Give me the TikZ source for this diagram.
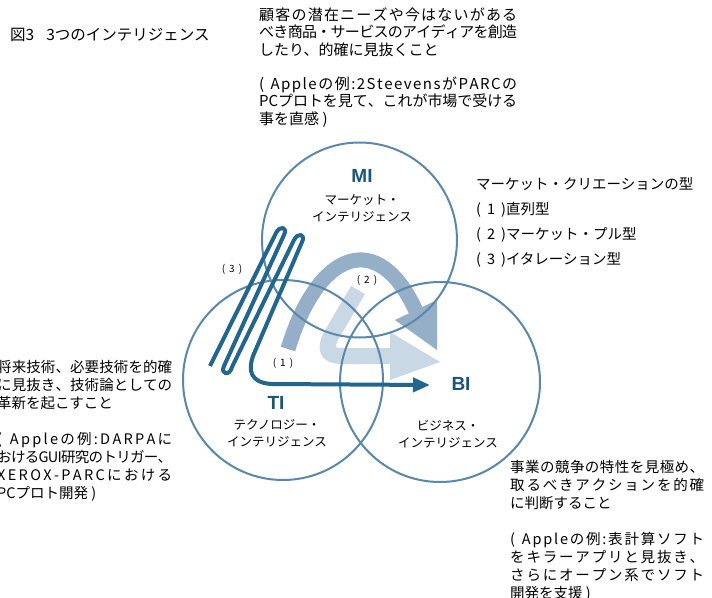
\documentclass[tikz,border=0pt]{standalone}
\usepackage{fontspec}
\setmainfont{Noto Sans CJK JP}
\newfontfamily\lat{Liberation Sans}
\usetikzlibrary{arrows.meta}
\definecolor{circc}{HTML}{5A88AC}
\definecolor{darkc}{HTML}{22668F}
\definecolor{medc}{HTML}{95AFC9}
\definecolor{lightc}{HTML}{C9D8E5}
\definecolor{labc}{HTML}{1B557E}
\makeatletter
\def\jl#1#2{\makebox[#1][s]{\jl@first#2\relax}}
\def\jl@first#1{#1\jl@rest}
\def\jl@rest#1{\ifx\relax#1\else\hskip 0pt plus 1fil minus 1pt #1\expandafter\jl@rest\fi}
\makeatother
\begin{document}
\begin{tikzpicture}[x=1pt,y=-1pt,
  txt/.style={anchor=north west, inner sep=0pt, align=left, text=black},
  circ/.style={circle, draw=circc, line width=2pt, inner sep=0pt},
  lbl/.style={font=\lat\bfseries\fontsize{19}{19}\selectfont, text=labc, inner sep=0pt},
  sub/.style={font=\fontsize{12.5}{16.5}\selectfont, align=center, inner sep=0pt},
  num/.style={font=\fontsize{10}{10}\selectfont, inner sep=0pt},
  band/.style={line cap=butt, line join=round},
  darkp/.style={draw=darkc, line width=4pt, line cap=butt, line join=round}]
\useasboundingbox (0,0) rectangle (712,597);
\clip (0,0) rectangle (712,597);
\fill[white] (0,0) rectangle (712,597);

% bands
\draw[band, draw=lightc, line width=16pt] (358,290) -- (331,336) .. controls (324,350) and (328,356) .. (342,356) -- (391,356);
\fill[lightc] (390,332) -- (440,362) -- (390,380) -- cycle;
\draw[band, draw=medc, line width=15pt] (288,349) .. controls (318,250) and (378,228) .. (416,311);
\fill[medc] (395,320) -- (437,300) -- (437,350) -- cycle;

% circles
\node[circ, minimum size=195pt] (MIc) at (359.5,240) {};
\node[circ, minimum size=200pt] (TIc) at (283,380) {};
\node[circ, minimum size=200pt] (BIc) at (440,382) {};

% dark iteration path and arrow (1)
\coordinate (tipone) at (430,385);
\draw[darkp, -{Triangle[length=17pt,width=14pt]}] (210,366) -- (276,233)
  .. controls (280,225) and (288,227) .. (284,235) -- (224,366)
  .. controls (220,375) and (230,376) .. (232,367) -- (294,240)
  .. controls (298,232) and (306,234) .. (302,242) -- (253,356)
  .. controls (248,370) and (250,383) .. (272,384) -- (tipone);

% circle labels
\node[lbl] (MI) at (362,176) {MI};
\node[sub] (MIs) at (362,208.5) {マーケット・\\インテリジェンス};
\node[lbl] (TI) at (276,403) {TI};
\node[sub] (TIs) at (277,433.5) {テクノロジー・\\インテリジェンス};
\node[lbl] (BI) at (461,384) {BI};
\node[sub] (BIs) at (448,434) {ビジネス・\\インテリジェンス};

\node[num] (n3) at (232,269) {(\hspace{4pt}3\hspace{4pt})};
\node[num] (n1) at (283,363) {(\hspace{4pt}1\hspace{4pt})};
\node[num] (n2) at (367,280) {(\hspace{4pt}2\hspace{4pt})};

% texts
\node[txt, font=\fontsize{15.5}{17}\selectfont] (title) at (10,27.5) {図3\hspace{12pt}3つのインテリジェンス};
\node[txt, font=\fontsize{15}{17.3}\selectfont] (mitext) at (259,7.5)
 {\jl{258pt}{顧客の潜在ニーズや今はないがある}\\
  \jl{258pt}{べき商品・サービスのアイディアを創造}\\
  したり、的確に見抜くこと\\[17.3pt]
  \jl{258pt}{(~Appleの例:2SteevensがPARCの}\\
  \jl{258pt}{PCプロトを見て、これが市場で受ける}\\
  事を直感 )};
\node[txt, font=\fontsize{14.5}{25}\selectfont] (types) at (476,177.7)
 {マーケット・クリエーションの型\\(\hspace{6pt}1\hspace{6pt})直列型\\(\hspace{6pt}2\hspace{6pt})マーケット・プル型\\(\hspace{6pt}3\hspace{6pt})イタレーション型};
\node[txt, font=\fontsize{14.5}{18}\selectfont] (titext) at (-3,359.7)
 {\jl{175pt}{将来技術、必要技術を的確}\\
  \jl{175pt}{に見抜き、技術論としての}\\
  革新を起こすこと\\[18pt]
  \jl{175pt}{(~Appleの例:DARPAに}\\
  \jl{175pt}{おけるGUI研究のトリガー、}\\
  \jl{175pt}{XEROX-PARCにおける}\\
  PCプロト開発 )};
\node[txt, font=\fontsize{14.5}{18}\selectfont] (bitext) at (510,459.7)
 {\jl{194pt}{事業の競争の特性を見極め、}\\
  \jl{194pt}{取るべきアクションを的確}\\
  に判断すること\\[18pt]
  \jl{194pt}{(~Appleの例:表計算ソフト}\\
  \jl{194pt}{をキラーアプリと見抜き、}\\
  \jl{194pt}{さらにオープン系でソフト}\\
  開発を支援 )};
\end{tikzpicture}
\end{document}
